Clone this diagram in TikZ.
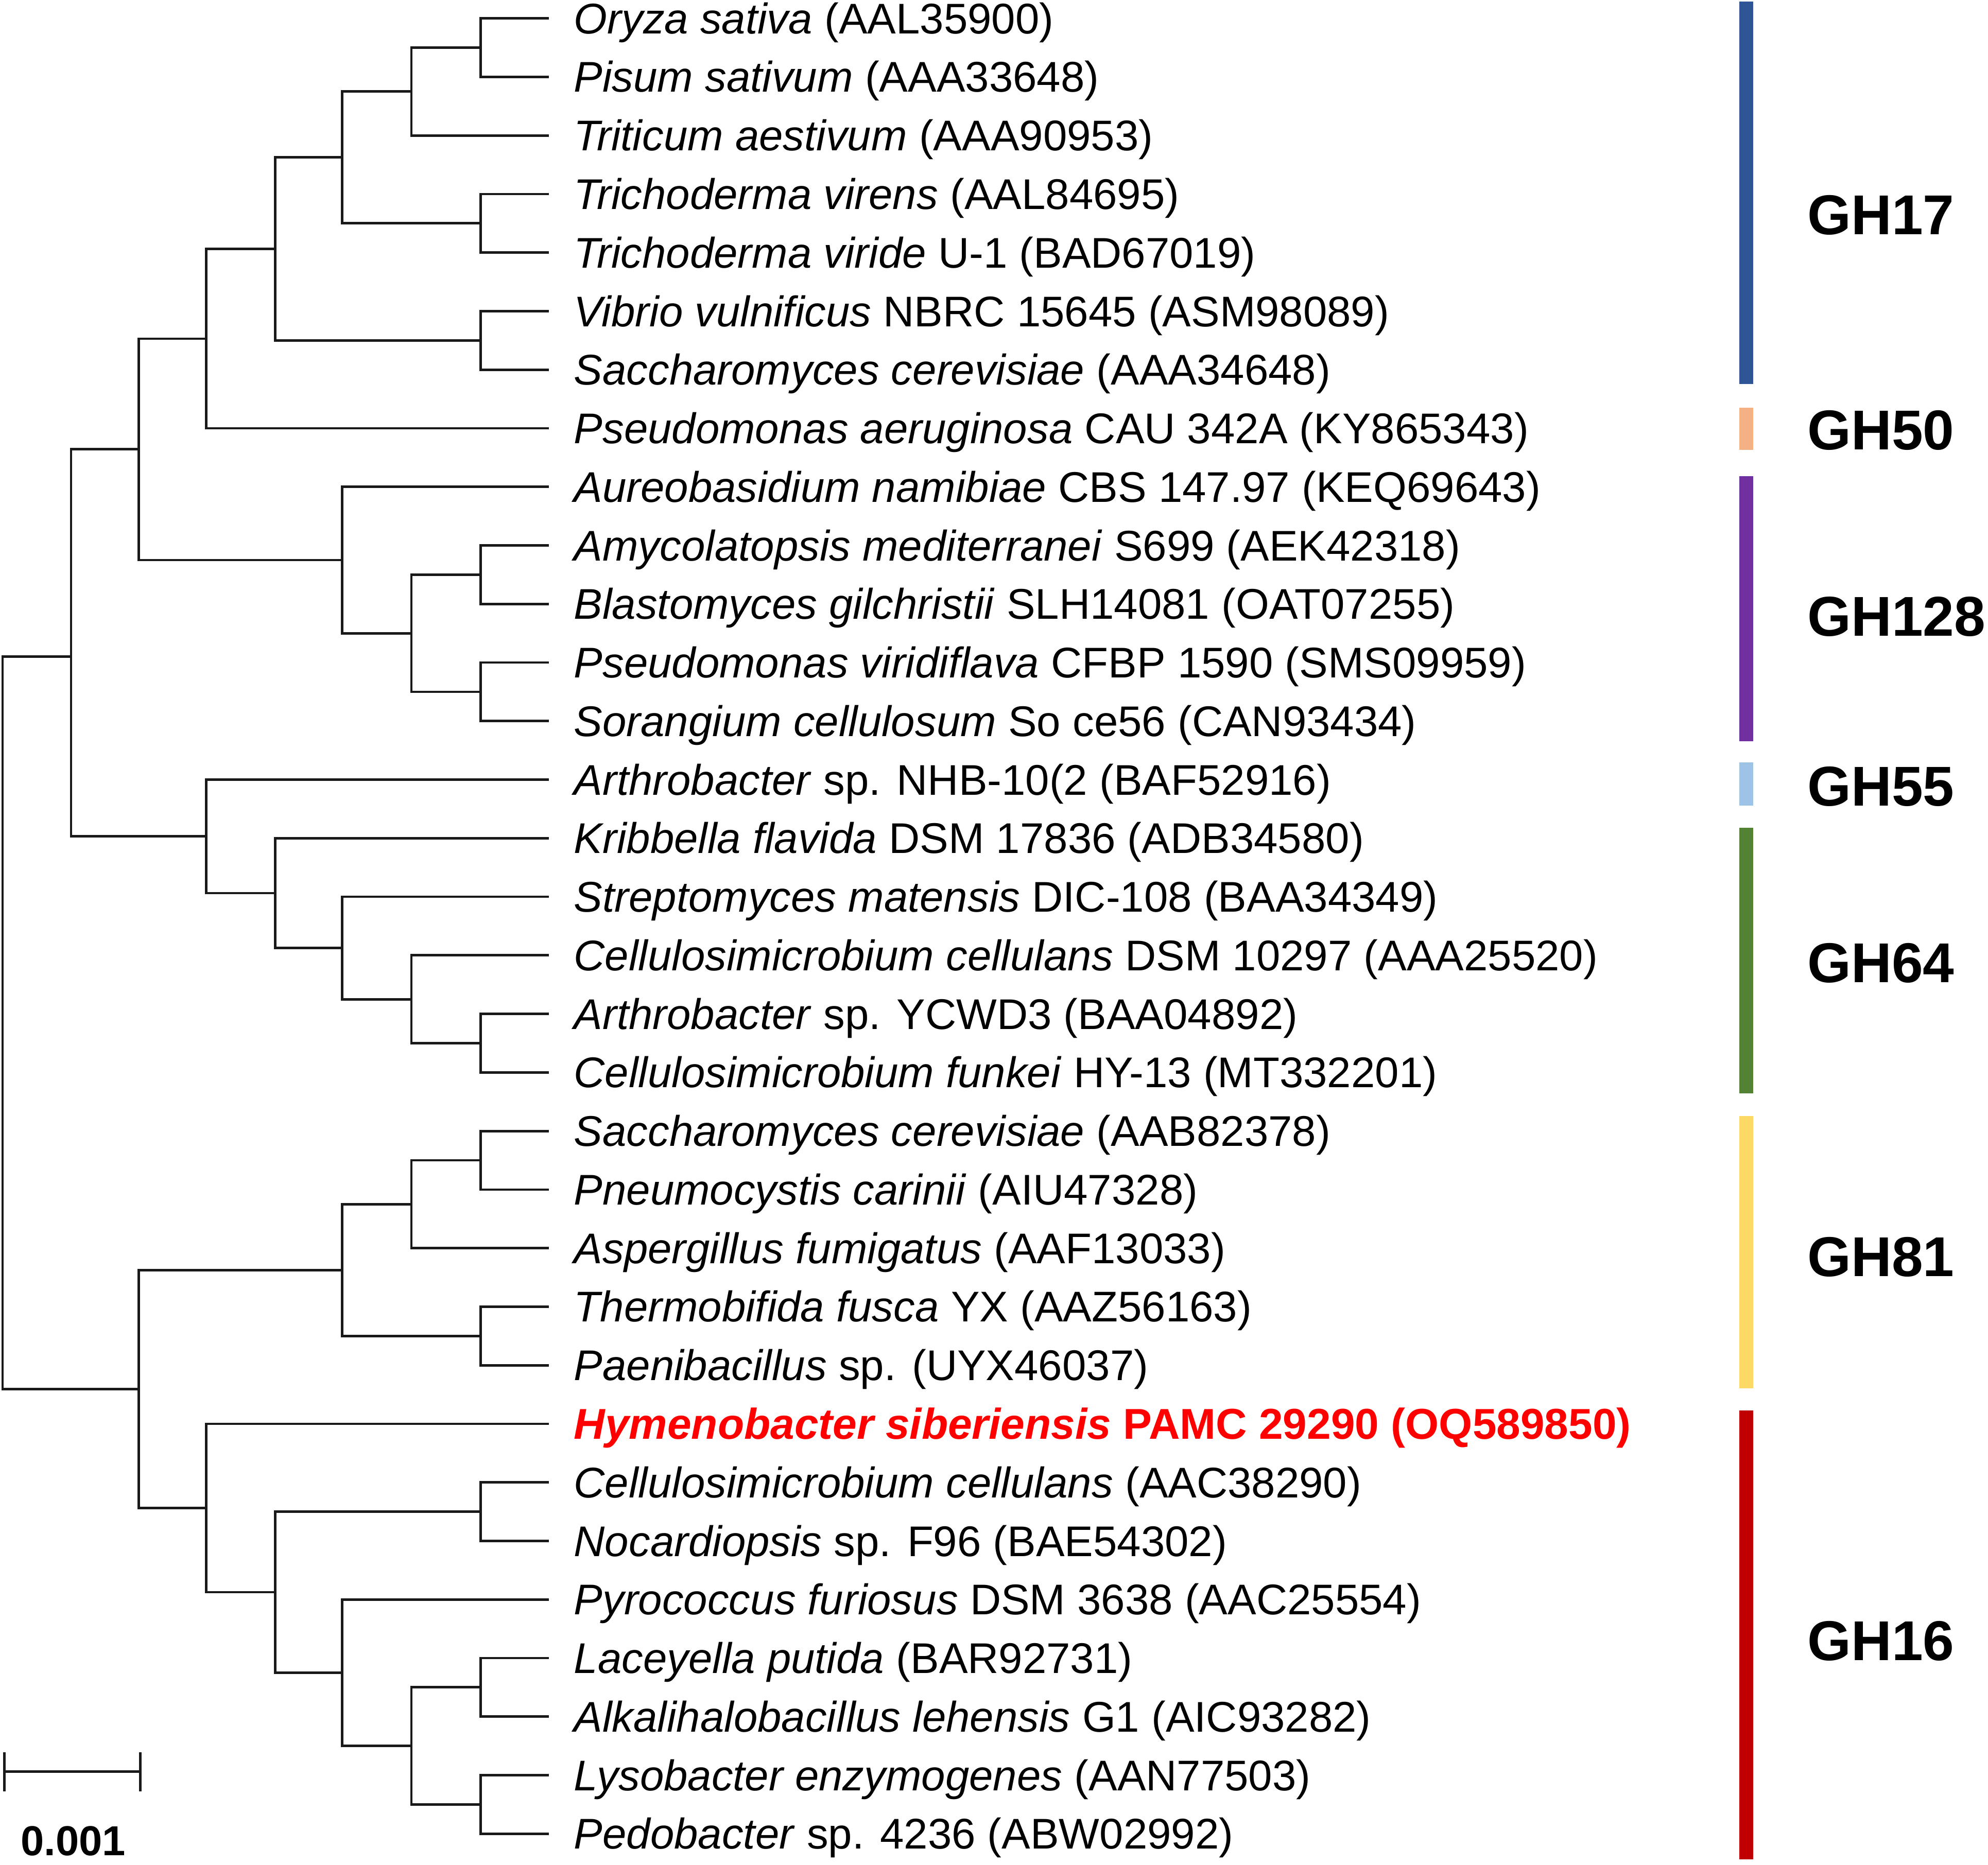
\documentclass[tikz,border=0pt]{standalone}
\usepackage{fontspec}
\setmainfont{Liberation Sans}
\definecolor{cGHxvii}{HTML}{2F5597}
\definecolor{cGHl}{HTML}{F4B183}
\definecolor{cGHcxxviii}{HTML}{7030A0}
\definecolor{cGHlv}{HTML}{9DC3E6}
\definecolor{cGHlxiv}{HTML}{548235}
\definecolor{cGHlxxxi}{HTML}{FFD966}
\definecolor{cGHxvi}{HTML}{C00000}
\definecolor{hred}{HTML}{FF0000}
\tikzset{
  br/.style={draw=black!90, line width=0.55pt},
  tiplabel/.style={anchor=base west, inner sep=0pt, font=\fontsize{9.63}{11}\selectfont},
  ghlabel/.style={anchor=base west, inner sep=0pt, font=\fontsize{12.6}{14}\selectfont\bfseries},
}
\begin{document}
\begin{tikzpicture}[x=0.01cm, y=-0.01cm]
\useasboundingbox (0,0) rectangle (1568,1471);
% tip end points
\foreach \i in {1,...,32} {
  \coordinate (p\i) at (433,{14.5+(\i-1)*46.2});
}
% internal nodes
\coordinate (na) at (379,37.6);
\coordinate (nb) at (324.5,72.25);
\coordinate (nc) at (379,176.2);
\coordinate (nd) at (270,124.2);
\coordinate (ne) at (379,268.6);
\coordinate (nf) at (217,196.4);
\coordinate (ng) at (162.5,267.2);
\coordinate (nh) at (379,453.4);
\coordinate (ni) at (379,545.8);
\coordinate (nj) at (324.5,499.6);
\coordinate (nk) at (270,441.9);
\coordinate (nl) at (109.5,354.5);
\coordinate (nm) at (379,823.0);
\coordinate (nn) at (324.5,788.35);
\coordinate (no) at (270,747.9);
\coordinate (np) at (217,704.6);
\coordinate (nq) at (162.5,659.9);
\coordinate (nr) at (56,518);
\coordinate (ns) at (379,915.4);
\coordinate (nt) at (324.5,950.05);
\coordinate (nu) at (379,1054.0);
\coordinate (nv) at (270,1002.0);
\coordinate (nw) at (379,1192.6);
\coordinate (nx) at (379,1331.2);
\coordinate (ny) at (379,1423.6);
\coordinate (nz) at (324.5,1377.4);
\coordinate (naa) at (270,1319.65);
\coordinate (nab) at (217,1256.1);
\coordinate (nac) at (162.5,1189.7);
\coordinate (nad) at (109.5,1095.85);
\coordinate (root) at (2,807);
% branches
\draw[br] (na) |- (p1); \draw[br] (na) |- (p2);
\draw[br] (nb) |- (na); \draw[br] (nb) |- (p3);
\draw[br] (nc) |- (p4); \draw[br] (nc) |- (p5);
\draw[br] (nd) |- (nb); \draw[br] (nd) |- (nc);
\draw[br] (ne) |- (p6); \draw[br] (ne) |- (p7);
\draw[br] (nf) |- (nd); \draw[br] (nf) |- (ne);
\draw[br] (ng) |- (nf); \draw[br] (ng) |- (p8);
\draw[br] (nh) |- (p10); \draw[br] (nh) |- (p11);
\draw[br] (ni) |- (p12); \draw[br] (ni) |- (p13);
\draw[br] (nj) |- (nh); \draw[br] (nj) |- (ni);
\draw[br] (nk) |- (p9); \draw[br] (nk) |- (nj);
\draw[br] (nl) |- (ng); \draw[br] (nl) |- (nk);
\draw[br] (nm) |- (p18); \draw[br] (nm) |- (p19);
\draw[br] (nn) |- (p17); \draw[br] (nn) |- (nm);
\draw[br] (no) |- (p16); \draw[br] (no) |- (nn);
\draw[br] (np) |- (p15); \draw[br] (np) |- (no);
\draw[br] (nq) |- (p14); \draw[br] (nq) |- (np);
\draw[br] (nr) |- (nl); \draw[br] (nr) |- (nq);
\draw[br] (ns) |- (p20); \draw[br] (ns) |- (p21);
\draw[br] (nt) |- (ns); \draw[br] (nt) |- (p22);
\draw[br] (nu) |- (p23); \draw[br] (nu) |- (p24);
\draw[br] (nv) |- (nt); \draw[br] (nv) |- (nu);
\draw[br] (nw) |- (p26); \draw[br] (nw) |- (p27);
\draw[br] (nx) |- (p29); \draw[br] (nx) |- (p30);
\draw[br] (ny) |- (p31); \draw[br] (ny) |- (p32);
\draw[br] (nz) |- (nx); \draw[br] (nz) |- (ny);
\draw[br] (naa) |- (p28); \draw[br] (naa) |- (nz);
\draw[br] (nab) |- (nw); \draw[br] (nab) |- (naa);
\draw[br] (nac) |- (p25); \draw[br] (nac) |- (nab);
\draw[br] (nad) |- (nv); \draw[br] (nad) |- (nac);
\draw[br] (root) |- (nr); \draw[br] (root) |- (nad);
% tip labels
\newcommand{\tl}[3]{\node[tiplabel] (t#1) at ([xshift=0.19cm,yshift=-0.12cm]p#1) {#2 #3};}
\tl{1}{\textit{Oryza sativa}}{(AAL35900)}
\tl{2}{\textit{Pisum sativum}}{(AAA33648)}
\tl{3}{\textit{Triticum aestivum}}{(AAA90953)}
\tl{4}{\textit{Trichoderma virens}}{(AAL84695)}
\tl{5}{\textit{Trichoderma viride}}{U-1 (BAD67019)}
\tl{6}{\textit{Vibrio vulnificus}}{NBRC 15645 (ASM98089)}
\tl{7}{\textit{Saccharomyces cerevisiae}}{(AAA34648)}
\tl{8}{\textit{Pseudomonas aeruginosa}}{CAU 342A (KY865343)}
\tl{9}{\textit{Aureobasidium namibiae}}{CBS 147.97 (KEQ69643)}
\tl{10}{\textit{Amycolatopsis mediterranei}}{S699 (AEK42318)}
\tl{11}{\textit{Blastomyces gilchristii}}{SLH14081 (OAT07255)}
\tl{12}{\textit{Pseudomonas viridiflava}}{CFBP 1590 (SMS09959)}
\tl{13}{\textit{Sorangium cellulosum}}{So ce56 (CAN93434)}
\tl{14}{\textit{Arthrobacter}}{sp. NHB-10(2 (BAF52916)}
\tl{15}{\textit{Kribbella flavida}}{DSM 17836 (ADB34580)}
\tl{16}{\textit{Streptomyces matensis}}{DIC-108 (BAA34349)}
\tl{17}{\textit{Cellulosimicrobium cellulans}}{DSM 10297 (AAA25520)}
\tl{18}{\textit{Arthrobacter}}{sp. YCWD3 (BAA04892)}
\tl{19}{\textit{Cellulosimicrobium funkei}}{HY-13 (MT332201)}
\tl{20}{\textit{Saccharomyces cerevisiae}}{(AAB82378)}
\tl{21}{\textit{Pneumocystis carinii}}{(AIU47328)}
\tl{22}{\textit{Aspergillus fumigatus}}{(AAF13033)}
\tl{23}{\textit{Thermobifida fusca}}{YX (AAZ56163)}
\tl{24}{\textit{Paenibacillus}}{sp. (UYX46037)}
\node[tiplabel, text=hred, font=\fontsize{9.68}{11}\selectfont\bfseries] (t25) at ([xshift=0.19cm,yshift=-0.12cm]p25) {\textit{Hymenobacter siberiensis} PAMC 29290 (OQ589850)};
\tl{26}{\textit{Cellulosimicrobium cellulans}}{(AAC38290)}
\tl{27}{\textit{Nocardiopsis}}{sp. F96 (BAE54302)}
\tl{28}{\textit{Pyrococcus furiosus}}{DSM 3638 (AAC25554)}
\tl{29}{\textit{Laceyella putida}}{(BAR92731)}
\tl{30}{\textit{Alkalihalobacillus lehensis}}{G1 (AIC93282)}
\tl{31}{\textit{Lysobacter enzymogenes}}{(AAN77503)}
\tl{32}{\textit{Pedobacter}}{sp. 4236 (ABW02992)}
% group bars
\fill[cGHxvii] (1372,1.3) rectangle (1383,303);
\fill[cGHl] (1372,321.5) rectangle (1383,355);
\fill[cGHcxxviii] (1372,375.7) rectangle (1383,584.9);
\fill[cGHlv] (1372,601.6) rectangle (1383,635.6);
\fill[cGHlxiv] (1372,653) rectangle (1383,862.5);
\fill[cGHlxxxi] (1372,880.3) rectangle (1383,1095.1);
\fill[cGHxvi] (1372,1112.9) rectangle (1383,1467);
% group labels
\node[ghlabel] (g17) at (1425,184.9) {GH17};
\node[ghlabel] (g50) at (1425,354.6) {GH50};
\node[ghlabel] (g128) at (1425,501.8) {GH128};
\node[ghlabel] (g55) at (1425,635.9) {GH55};
\node[ghlabel] (g64) at (1425,775.2) {GH64};
\node[ghlabel] (g81) at (1425,1006.8) {GH81};
\node[ghlabel] (g16) at (1425,1310.1) {GH16};
% scale bar
\coordinate (sbl) at (3.4,1397.6);
\coordinate (sbr) at (110.8,1397.6);
\draw[br] (sbl) -- (sbr);
\draw[br] ([yshift=0.151cm]sbl) -- ([yshift=-0.158cm]sbl);
\draw[br] ([yshift=0.151cm]sbr) -- ([yshift=-0.158cm]sbr);
\node[anchor=base, inner sep=0pt, font=\fontsize{9.4}{11}\selectfont\bfseries] (sblab) at (57.7,1463.8) {0.001};
\end{tikzpicture}
\end{document}
